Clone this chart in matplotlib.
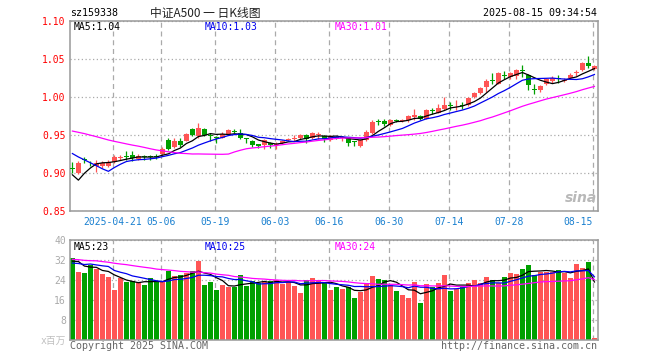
import numpy as np
import pandas as pd
import matplotlib
matplotlib.use('Agg')
import matplotlib.pyplot as plt

plt.rcParams['font.family'] = ['DejaVu Sans Mono', 'Noto Sans CJK SC']

# closes / volumes before the first visible day (only used for the MA lines)
prior_close = [0.962, 0.968, 0.975, 0.972, 0.978, 0.981, 0.976, 0.970, 0.973, 0.968,
               0.965, 0.971, 0.974, 0.969, 0.966, 0.970, 0.972, 0.968, 0.963, 0.966,
               0.958, 0.955, 0.952, 0.951, 0.954, 0.948, 0.872, 0.878, 0.886]
prior_volume = [31, 35, 34, 30, 36, 33, 32, 34, 31, 35, 33, 32, 34, 36, 30, 33, 32, 35, 31, 33,
                29, 31, 28, 32, 30, 28, 36, 32, 29]

# daily K line, 2025-04-10 .. 2025-08-15
open_ = [0.907, 0.900, 0.918, 0.914, 0.910, 0.910, 0.910, 0.915, 0.920, 0.923,
         0.924, 0.919, 0.922, 0.922, 0.923, 0.925, 0.944, 0.935, 0.943, 0.943,
         0.958, 0.949, 0.958, 0.950, 0.948, 0.947, 0.952, 0.956, 0.953, 0.946,
         0.942, 0.938, 0.937, 0.940, 0.937, 0.940, 0.944, 0.945, 0.946, 0.951,
         0.946, 0.950, 0.949, 0.944, 0.948, 0.946, 0.946, 0.942, 0.936, 0.944,
         0.953, 0.969, 0.969, 0.964, 0.970, 0.969, 0.970, 0.974, 0.976, 0.972,
         0.983, 0.980, 0.985, 0.990, 0.988, 0.990, 0.990, 1.000, 1.006, 1.014,
         1.023, 1.018, 1.030, 1.027, 1.028, 1.036, 1.029, 1.011, 1.009, 1.018,
         1.021, 1.026, 1.022, 1.025, 1.032, 1.036, 1.045, 1.037]
high = [0.915, 0.916, 0.921, 0.916, 0.918, 0.916, 0.917, 0.924, 0.924, 0.929,
        0.929, 0.926, 0.924, 0.924, 0.926, 0.934, 0.947, 0.946, 0.946, 0.953,
        0.960, 0.966, 0.959, 0.953, 0.949, 0.954, 0.958, 0.958, 0.958, 0.947,
        0.944, 0.939, 0.945, 0.941, 0.941, 0.944, 0.947, 0.951, 0.952, 0.952,
        0.955, 0.954, 0.951, 0.951, 0.949, 0.949, 0.947, 0.943, 0.945, 0.957,
        0.970, 0.972, 0.972, 0.972, 0.972, 0.972, 0.977, 0.985, 0.977, 0.985,
        0.986, 0.991, 1.000, 0.994, 0.996, 0.994, 1.000, 1.007, 1.014, 1.024,
        1.032, 1.033, 1.034, 1.033, 1.037, 1.043, 1.031, 1.018, 1.016, 1.025,
        1.028, 1.029, 1.025, 1.032, 1.036, 1.046, 1.054, 1.042]
low = [0.900, 0.899, 0.913, 0.909, 0.902, 0.907, 0.908, 0.913, 0.917, 0.917,
       0.916, 0.917, 0.917, 0.918, 0.919, 0.923, 0.931, 0.933, 0.935, 0.942,
       0.949, 0.947, 0.949, 0.942, 0.940, 0.946, 0.951, 0.953, 0.945, 0.940,
       0.935, 0.933, 0.932, 0.933, 0.932, 0.938, 0.942, 0.943, 0.945, 0.940,
       0.945, 0.945, 0.941, 0.943, 0.945, 0.942, 0.936, 0.936, 0.934, 0.943,
       0.952, 0.964, 0.962, 0.962, 0.967, 0.967, 0.968, 0.970, 0.970, 0.971,
       0.978, 0.979, 0.983, 0.983, 0.983, 0.985, 0.989, 0.999, 1.004, 1.007,
       1.018, 1.018, 1.024, 1.024, 1.024, 1.027, 1.010, 1.004, 1.007, 1.016,
       1.019, 1.019, 1.020, 1.024, 1.028, 1.035, 1.038, 1.036]
close = [0.906, 0.913, 0.917, 0.913, 0.913, 0.913, 0.915, 0.922, 0.921, 0.922,
         0.920, 0.923, 0.921, 0.921, 0.922, 0.932, 0.932, 0.943, 0.937, 0.952,
         0.950, 0.960, 0.950, 0.949, 0.947, 0.952, 0.957, 0.955, 0.946, 0.945,
         0.937, 0.936, 0.944, 0.937, 0.938, 0.943, 0.945, 0.946, 0.951, 0.945,
         0.953, 0.951, 0.945, 0.949, 0.947, 0.947, 0.940, 0.941, 0.944, 0.955,
         0.968, 0.968, 0.965, 0.970, 0.969, 0.970, 0.975, 0.977, 0.972, 0.983,
         0.982, 0.986, 0.990, 0.989, 0.989, 0.989, 0.999, 1.006, 1.012, 1.022,
         1.022, 1.032, 1.028, 1.032, 1.036, 1.035, 1.016, 1.010, 1.015, 1.024,
         1.025, 1.024, 1.023, 1.029, 1.033, 1.045, 1.041, 1.041]
# volume, millions
volume = [32.7, 27.3, 26.9, 30, 28.4, 26.5, 25.3, 20, 24.9, 23.3,
          23.7, 22.7, 22, 24.9, 23.7, 23.3, 27.6, 25.6, 26, 26.7,
          27.6, 31.7, 22, 23.3, 20, 22, 21.3, 21.3, 26, 21.6,
          23.6, 22.7, 23.3, 23.6, 24, 22.3, 23.3, 21.7, 18.9, 24,
          24.9, 24, 22.7, 20, 21.1, 20.3, 21.3, 16.7, 19.2, 22.7,
          25.6, 24.4, 24, 22, 19.6, 18, 16.8, 23.2, 14.9, 22.4,
          21.1, 22.8, 26, 19.6, 20.3, 21.1, 22.8, 24, 22.7, 25.2,
          24, 22.7, 25.2, 26.8, 26.4, 28.4, 30, 26, 27.3, 27.3,
          27.3, 28, 26.9, 24.8, 30.4, 28.8, 31.2, 0.8]

tick_index = [7, 15, 24, 34, 43, 53, 63, 73, 87]
tick_labels = ['2025-04-21', '05-06', '05-19', '06-03', '06-16',
               '06-30', '07-14', '07-28', '08-15']
price_ticks = [0.85, 0.90, 0.95, 1.00, 1.05, 1.10]
vol_ticks = [0, 8, 16, 24, 32, 40]
vol_tick_labels = ['x百万', '8', '16', '24', '32', '40']

RED = '#ff5555'
GREEN = '#00a000'
MA_COLORS = {5: 'black', 10: '#0000ee', 30: '#ff00ff'}
GRID = '#aaaaaa'
FRAME = '#999999'

n0 = len(prior_close)
x = np.arange(len(close))
o, h, l, c = map(np.array, (open_, high, low, close))
up = c >= o
colors = np.where(up, RED, GREEN)

price_ma = {w: pd.Series(prior_close + close).rolling(w).mean().to_numpy()[n0:]
            for w in (5, 10, 30)}
vol_ma = {w: pd.Series(prior_volume + volume).rolling(w).mean().to_numpy()[n0:]
          for w in (5, 10, 30)}

W, H = 660, 360
fig = plt.figure(figsize=(6.6, 3.6), dpi=100)


def box(left, top, right, bottom):
    return [left / W, 1 - bottom / H, (right - left) / W, (bottom - top) / H]


ax = fig.add_axes(box(70, 21.3, 598, 211.3))
ax2 = fig.add_axes(box(70, 240, 598, 340))

# candles
ax.vlines(x, l, h, colors=colors, lw=0.9, zorder=2)
ax.bar(x, np.maximum(np.abs(c - o), 0.0012), bottom=np.minimum(o, c),
       width=0.8, color=colors, zorder=3)
for w in (5, 10, 30):
    ax.plot(x, price_ma[w], color=MA_COLORS[w], lw=0.9, zorder=4)

# volume
ax2.bar(x, volume, width=0.8, color=colors, zorder=2)
for w in (5, 10, 30):
    ax2.plot(x, vol_ma[w], color=MA_COLORS[w], lw=0.9, zorder=4)

grid_x = np.array(tick_index) - 0.27
for a in (ax, ax2):
    a.set_xlim(-0.4, 87.6)
    a.set_xticks(grid_x)
    a.xaxis.grid(True, color=GRID, linestyle=(0, (4, 3)), lw=0.9)
    a.yaxis.grid(True, color=GRID, linestyle=(0, (1, 2)), lw=0.9)
    a.set_axisbelow(True)
    for s in a.spines.values():
        s.set_color(FRAME)
        s.set_linewidth(1.1)
    a.tick_params(length=0)

ax.set_ylim(0.85, 1.10)
ax.set_yticks(price_ticks)
ax.set_yticklabels(['%.2f' % v for v in price_ticks])
ax.tick_params(axis='y', colors='red', labelsize=7, pad=3)
ax.set_xticklabels(tick_labels)
ax.tick_params(axis='x', colors='#1a80d0', labelsize=7, pad=4)
ax.get_xticklabels()[-1].set_horizontalalignment('right')

ax2.set_ylim(0, 40)
ax2.set_yticks(vol_ticks)
ax2.set_yticklabels(vol_tick_labels)
ax2.tick_params(axis='y', colors='#aaaaaa', labelsize=7, pad=3)
ax2.get_yticklabels()[0].set_color('#c0c0c0')
ax2.set_xticklabels([])


def put(px, py, s, **kw):
    fig.text(px / W, 1 - py / H, s, va='center', **kw)


put(70, 13, 'sz159338', fontsize=7.2, color='black')
put(150, 13, '中证A500 一 日K线图', fontsize=8.5, color='#222222',
    family=['Noto Sans CJK SC', 'DejaVu Sans'])
put(597, 13, '2025-08-15 09:34:54', fontsize=7.2, color='black', ha='right')

put(74, 27, 'MA5:1.04', fontsize=7, color=MA_COLORS[5])
put(205, 27, 'MA10:1.03', fontsize=7, color=MA_COLORS[10])
put(335, 27, 'MA30:1.01', fontsize=7, color=MA_COLORS[30])
put(74, 247, 'MA5:23', fontsize=7, color=MA_COLORS[5])
put(205, 247, 'MA10:25', fontsize=7, color=MA_COLORS[10])
put(335, 247, 'MA30:24', fontsize=7, color=MA_COLORS[30])

put(581, 198, 'sina', fontsize=10, color='#b8b8b8', ha='center',
    style='italic', weight='bold', family='DejaVu Sans')

put(70, 346, 'Copyright 2025 SINA.COM', fontsize=7.2, color='#666666')
put(597, 346, 'http://finance.sina.com.cn', fontsize=7.2, color='#666666', ha='right')

fig.savefig('out.png', dpi=100)
